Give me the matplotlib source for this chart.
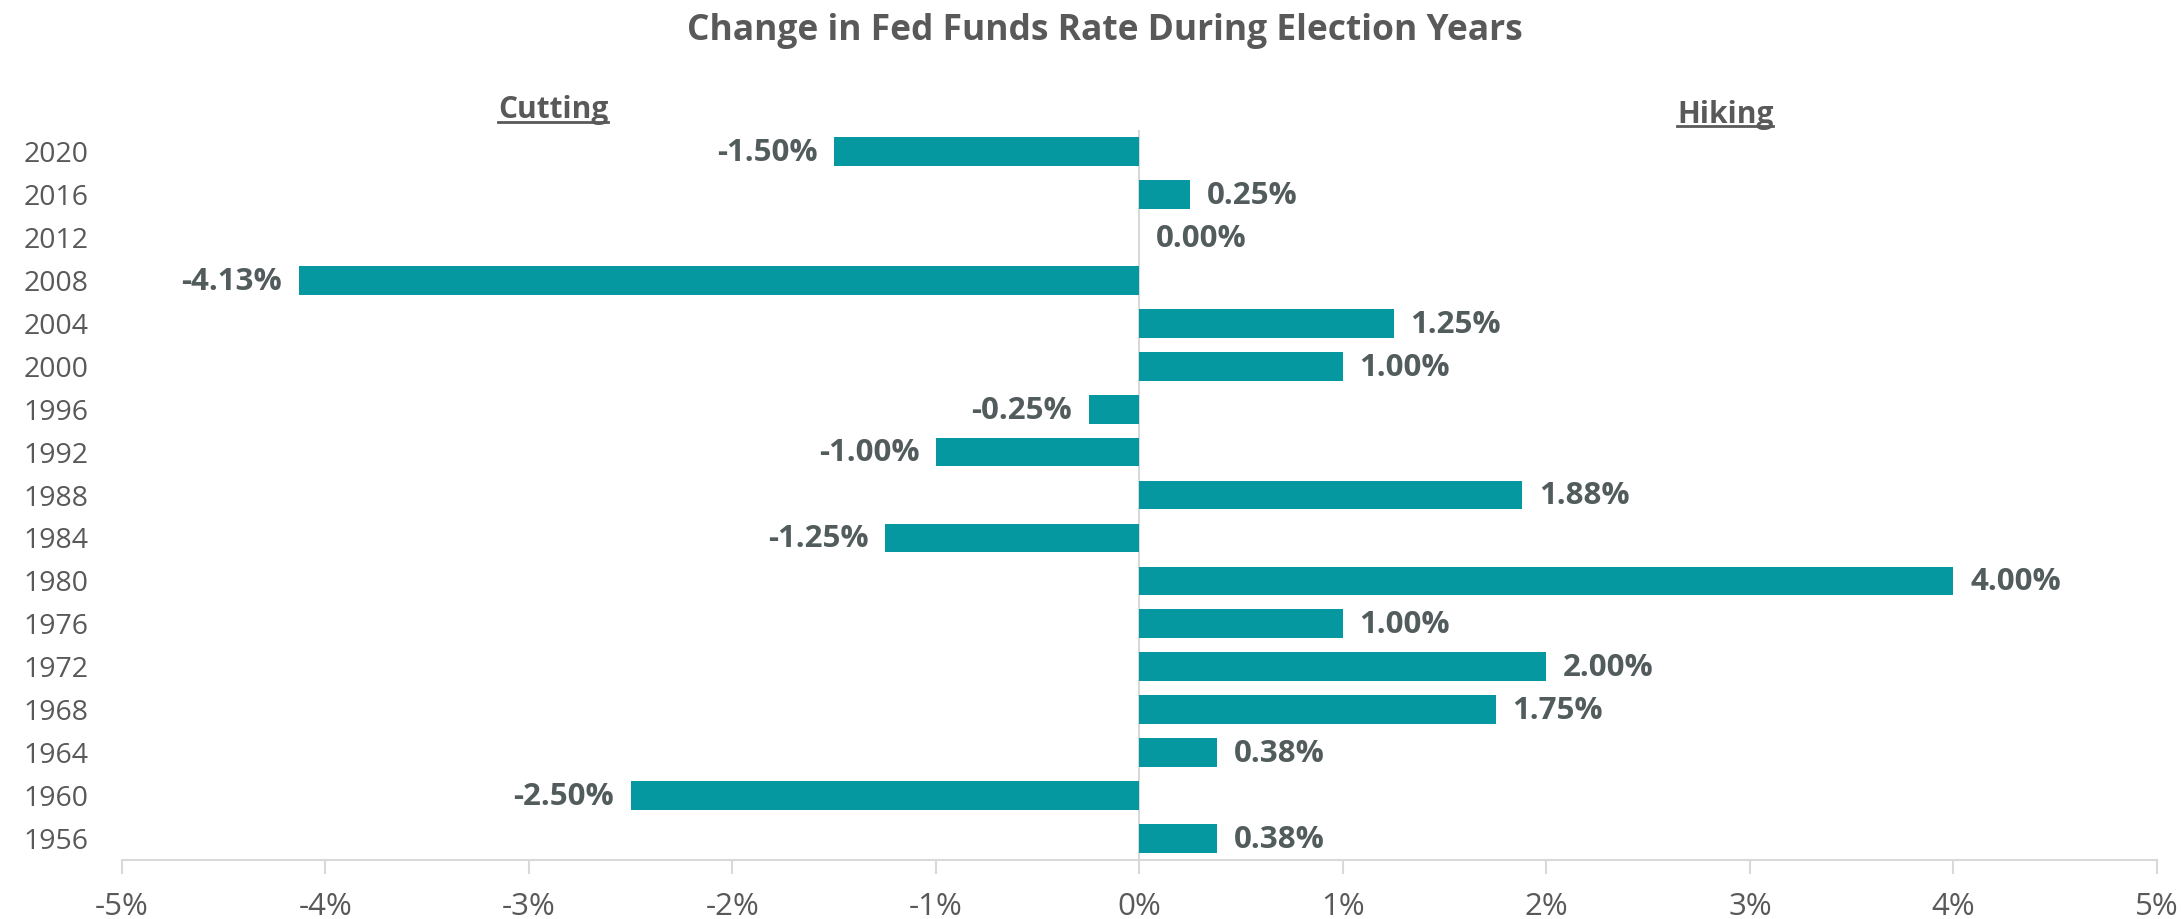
import matplotlib.pyplot as plt
import numpy as np

plt.rcParams['font.family'] = ['Open Sans', 'DejaVu Sans']

years = ['2020', '2016', '2012', '2008', '2004', '2000', '1996', '1992', '1988',
         '1984', '1980', '1976', '1972', '1968', '1964', '1960', '1956']
change = [-1.50, 0.25, 0.00, -4.13, 1.25, 1.00, -0.25, -1.00, 1.88,
          -1.25, 4.00, 1.00, 2.00, 1.75, 0.38, -2.50, 0.38]
xticks = [-5, -4, -3, -2, -1, 0, 1, 2, 3, 4, 5]

bar_color = '#0598a0'
text_color = '#595959'
label_color = '#525c5c'
grid_color = '#d9d9d9'

fig = plt.figure(figsize=(21.81, 9.19), dpi=100)
ax = fig.add_axes([0.0559, 0.0642, 0.9331, 0.7943])

pos = np.arange(len(years))
ax.barh(pos, change, height=0.67, color=bar_color, zorder=2)
ax.set_ylim(len(years) - 0.5, -0.5)
ax.set_xlim(-5, 5)

# value labels at the end of each bar
for p, v in zip(pos, change):
    if v < 0:
        ax.annotate(f'{v:.2f}%', (v, p), xytext=(-12, -1), textcoords='offset points',
                    ha='right', va='center', fontsize=22.5, fontweight='bold',
                    color=label_color)
    else:
        ax.annotate(f'{v:.2f}%', (v, p), xytext=(12, -1), textcoords='offset points',
                    ha='left', va='center', fontsize=22.5, fontweight='bold',
                    color=label_color)

ax.axvline(0, color=grid_color, lw=1.5, zorder=1)

for s in ['top', 'right', 'left']:
    ax.spines[s].set_visible(False)
ax.spines['bottom'].set_color(grid_color)
ax.spines['bottom'].set_linewidth(1.5)

ax.set_yticks(pos)
ax.set_yticklabels(years)
ax.set_xticks(xticks)
ax.set_xticklabels([f'{t}%' for t in xticks])
ax.tick_params(axis='y', length=0, pad=24, labelsize=20.5, labelcolor=text_color)
ax.tick_params(axis='x', length=10, width=1.5, color=grid_color, pad=13,
               labelsize=22.5, labelcolor=text_color)

fig.text(0.5067, 0.966, 'Change in Fed Funds Rate During Election Years',
         ha='center', va='center', fontsize=25.5, fontweight='bold', color=text_color)

# underlined side headers
headers = [fig.text(0.2535, 0.880, 'Cutting', ha='center', va='center',
                    fontsize=21.5, fontweight='bold', color=text_color),
           fig.text(0.791, 0.875, 'Hiking', ha='center', va='center',
                    fontsize=21.5, fontweight='bold', color=text_color)]
fig.canvas.draw()
inv = fig.transFigure.inverted()
for t in headers:
    bb = t.get_window_extent()
    (x0, y0), (x1, y1) = inv.transform([(bb.x0, bb.y0), (bb.x1, bb.y1)])
    fig.add_artist(plt.Line2D([x0, x1], [y0 + 0.004, y0 + 0.004],
                              transform=fig.transFigure, color=text_color, lw=2))

fig.savefig('out.png', dpi=100, facecolor='white')
